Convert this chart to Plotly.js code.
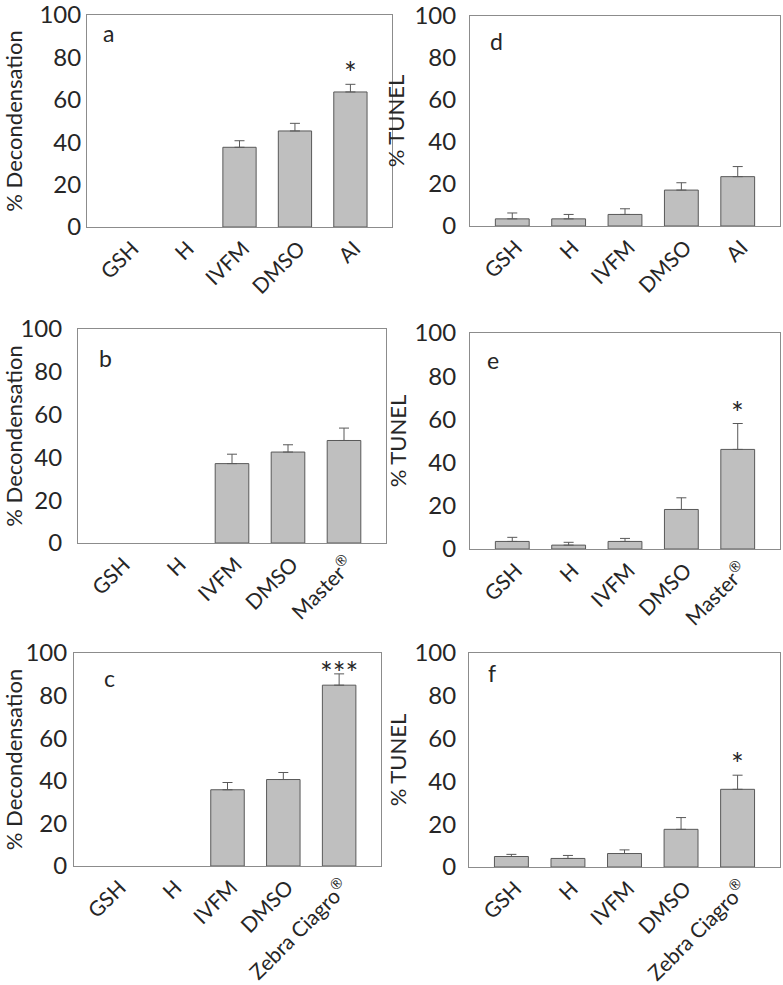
<!DOCTYPE html>
<html>
<head>
<meta charset="utf-8">
<script src="https://cdn.plot.ly/plotly-3.0.1.min.js"></script>
<style>html,body{margin:0;padding:0;background:#fff;}#chart{width:783px;height:985px;}</style>
</head>
<body>
<div id="chart"></div>
<script>
// ---- Data ----
const catsA = ["GSH", "H", "IVFM", "DMSO", "AI"];
const catsB = ["GSH", "H", "IVFM", "DMSO", "Master<sup>®</sup>"];
const catsC = ["GSH", "H", "IVFM", "DMSO", "Zebra Ciagro<sup>®</sup>"];

const decondA = [null, null, 37.6, 45.3, 63.7];
const decondAErr = [0, 0, 3.1, 3.6, 3.6];
const decondASig = ["", "", "", "", "*"];

const decondB = [null, null, 37.1, 42.5, 47.9];
const decondBErr = [0, 0, 4.4, 3.4, 5.8];
const decondBSig = ["", "", "", "", ""];

const decondC = [null, null, 35.8, 40.6, 84.9];
const decondCErr = [0, 0, 3.4, 3.3, 5.3];
const decondCSig = ["", "", "", "", "***"];

const tunelD = [3.4, 3.4, 5.5, 17.1, 23.5];
const tunelDErr = [2.8, 2.1, 2.7, 3.5, 4.8];
const tunelDSig = ["", "", "", "", ""];

const tunelE = [3.5, 1.8, 3.5, 18.3, 46.1];
const tunelEErr = [1.9, 1.3, 1.4, 5.4, 12.0];
const tunelESig = ["", "", "", "", "*"];

const tunelF = [4.9, 4.0, 6.3, 17.6, 36.3];
const tunelFErr = [1.0, 1.4, 1.7, 5.5, 6.6];
const tunelFSig = ["", "", "", "", "*"];

const panelLetters = ["a", "b", "c", "d", "e", "f"];
const yTitles = ["% Decondensation", "% Decondensation", "% Decondensation", "% TUNEL", "% TUNEL", "% TUNEL"];

// ---- Layout geometry (pixels) ----
const W = 783, H = 985;
const boxes = [
  {l: 87,  r: 392, t: 15,  b: 227, lx: 0.069, ly: 0.915, star: 12, tls: 0,  ts: 14},  // a
  {l: 78,  r: 386, t: 329, b: 543, lx: 0.088, ly: 0.864, star: 12, tls: 10, ts: 8},   // b
  {l: 74,  r: 381, t: 653, b: 866, lx: 0.117, ly: 0.883, star: 2,  tls: 1,  ts: 4},   // c
  {l: 470, r: 780, t: 16,  b: 226, lx: 0.084, ly: 0.880, star: 12, tls: 8,  ts: 3},   // d
  {l: 470, r: 780, t: 333, b: 549, lx: 0.074, ly: 0.875, star: 12, tls: 8,  ts: 1},   // e
  {l: 469, r: 780, t: 653, b: 867, lx: 0.074, ly: 0.907, star: 12, tls: 7,  ts: 1}    // f
];

const panels = [
  {cats: catsA, y: decondA, e: decondAErr, s: decondASig},
  {cats: catsB, y: decondB, e: decondBErr, s: decondBSig},
  {cats: catsC, y: decondC, e: decondCErr, s: decondCSig},
  {cats: catsA, y: tunelD, e: tunelDErr, s: tunelDSig},
  {cats: catsB, y: tunelE, e: tunelEErr, s: tunelESig},
  {cats: catsC, y: tunelF, e: tunelFErr, s: tunelFSig}
];

const FONT = "Lato, 'Open Sans', sans-serif";
const TXT = "#262626";

const traces = [];
const layout = {
  width: W, height: H,
  margin: {l: 0, r: 0, t: 0, b: 0},
  paper_bgcolor: "#fff", plot_bgcolor: "#fff",
  showlegend: false,
  font: {family: FONT, color: TXT},
  annotations: []
};

panels.forEach((p, i) => {
  const n = i + 1;
  const xa = n === 1 ? "x" : "x" + n;
  const ya = n === 1 ? "y" : "y" + n;
  const bx = boxes[i];
  traces.push({
    type: "bar",
    x: p.cats, y: p.y,
    xaxis: xa, yaxis: ya,
    width: 0.6,
    marker: {color: "#bfbfbf", line: {color: "#595959", width: 1}},
    error_y: {type: "data", symmetric: false, array: p.e, arrayminus: p.e.map(() => 0),
              color: "#595959", thickness: 1, width: 5},
    hoverinfo: "x+y"
  });
  layout["xaxis" + (n === 1 ? "" : n)] = {
    domain: [bx.l / W, bx.r / W],
    anchor: ya,
    type: "category",
    range: [-0.75, 4.75],
    tickangle: -45,
    tickfont: {family: FONT, size: 21, color: TXT},
    ticklabelshift: 4,
    showline: true, linecolor: "#8c8c8c", linewidth: 1, mirror: true,
    ticks: "", showgrid: false, zeroline: false, fixedrange: true
  };
  layout["yaxis" + (n === 1 ? "" : n)] = {
    domain: [1 - bx.b / H, 1 - bx.t / H],
    anchor: xa,
    range: [0, 100], dtick: 20,
    tickfont: {family: FONT, size: 24, color: TXT},
    ticklabeloverflow: "allow",
    ticklabelstandoff: bx.tls,
    title: {text: yTitles[i], font: {family: FONT, size: 22, color: TXT}, standoff: bx.ts},
    showline: true, linecolor: "#8c8c8c", linewidth: 1, mirror: true,
    ticks: "", showgrid: false, zeroline: false, fixedrange: true
  };
  layout.annotations.push({
    xref: xa + " domain", yref: ya + " domain",
    x: bx.lx, y: bx.ly, text: panelLetters[i], showarrow: false,
    font: {family: FONT, size: 23, color: TXT}, xanchor: "center", yanchor: "middle"
  });
  p.s.forEach((s, k) => {
    if (!s) return;
    layout.annotations.push({
      xref: xa, yref: ya,
      x: p.cats[k], y: p.y[k] + p.e[k], text: s, showarrow: false,
      font: {family: FONT, size: 30, color: TXT}, xanchor: "center", yanchor: "middle", yshift: bx.star
    });
  });
});

Plotly.newPlot("chart", traces, layout, {displayModeBar: false, staticPlot: true});
</script>
</body>
</html>
